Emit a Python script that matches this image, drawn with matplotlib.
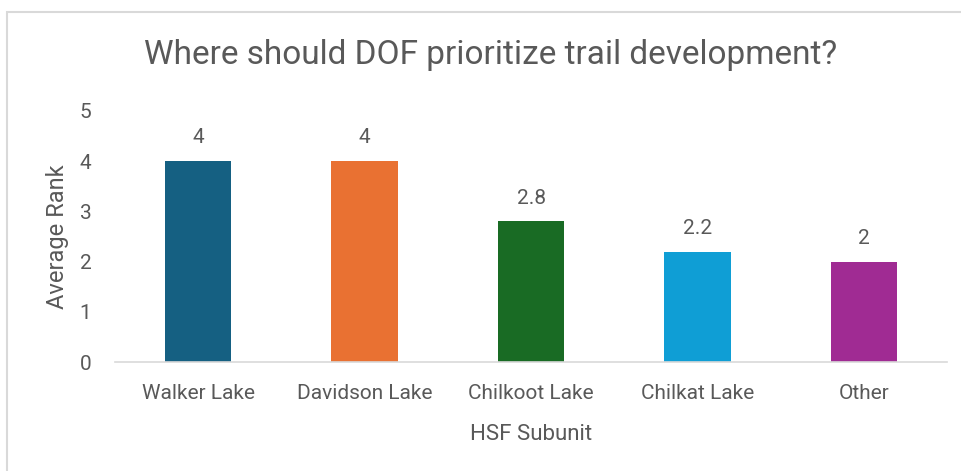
import matplotlib.pyplot as plt
from matplotlib.patches import Rectangle

# Données du graphique
subunits = ['Walker Lake', 'Davidson Lake', 'Chilkoot Lake', 'Chilkat Lake', 'Other']
avg_rank = [4, 4, 2.8, 2.2, 2]
bar_colors = ['#156082', '#E97132', '#196B24', '#0F9ED5', '#A02B93']

gris = '#595959'
plt.rcParams['font.family'] = ['Roboto', 'DejaVu Sans']

fig = plt.figure(figsize=(9.62, 4.71), dpi=100)
ax = fig.add_axes([115/962, 1 - 362/471, 832/962, 251/471])

x = range(len(subunits))
bars = ax.bar(x, avg_rank, width=0.40, color=bar_colors)

# Étiquettes de valeur au-dessus des barres
for b, v in zip(bars, avg_rank):
    ax.annotate('{:g}'.format(v), (b.get_x() + b.get_width()/2, v),
                xytext=(0, 10), textcoords='offset points',
                ha='center', va='bottom', fontsize=15, color=gris)

ax.set_xlim(-0.5, len(subunits) - 0.5)
ax.set_ylim(0, 5)
ax.set_yticks(range(0, 6))
ax.set_xticks(list(x))
ax.set_xticklabels(subunits)
ax.tick_params(axis='both', length=0, labelsize=15, colors=gris)
ax.tick_params(axis='y', pad=17)
ax.tick_params(axis='x', pad=16)

for s in ['top', 'right', 'left']:
    ax.spines[s].set_visible(False)
ax.spines['bottom'].set_color('#d9d9d9')
ax.spines['bottom'].set_linewidth(1.2)

ax.set_xlabel('HSF Subunit', fontsize=16, color=gris, labelpad=15)
ax.set_ylabel('Average Rank', fontsize=17, color=gris, labelpad=8)

fig.text(491/962, 1 - 55/471, 'Where should DOF prioritize trail development?',
         ha='center', va='center', fontsize=24, color=gris)

# Cadre du graphique
fig.patches.append(Rectangle((7/962, -0.1), 1.1, 1 - 12/471 + 0.1,
                             transform=fig.transFigure, fill=False,
                             edgecolor='#d9d9d9', linewidth=1.5))

fig.savefig('out.png', dpi=100, facecolor='white')
